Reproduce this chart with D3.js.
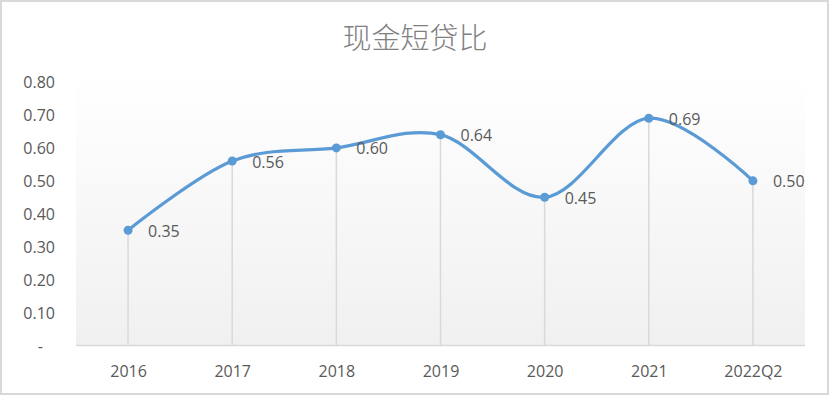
<!DOCTYPE html>
<html><head><meta charset="utf-8">
<script src="https://cdn.jsdelivr.net/npm/d3@7"></script>
<style>html,body{margin:0;padding:0;background:#fff;}svg{display:block;}</style>
</head><body>
<script>
const categories = ["2016","2017","2018","2019","2020","2021","2022Q2"];
const values = [0.35, 0.56, 0.60, 0.64, 0.45, 0.69, 0.50];
const yTicks = [0, 0.1, 0.2, 0.3, 0.4, 0.5, 0.6, 0.7, 0.8];
const title = "现金短贷比";

const W = 829, H = 395;
const m = {left: 76, right: 24, top: 82, bottom: 49.5};
const svg = d3.select("body").append("svg").attr("width", W).attr("height", H);

svg.append("rect").attr("x", 1).attr("y", 1).attr("width", W - 2).attr("height", H - 2)
  .attr("fill", "#fff").attr("stroke", "#d9d9d9").attr("stroke-width", 2);

const defs = svg.append("defs");
const g = defs.append("linearGradient").attr("id", "bg").attr("x1", 0).attr("y1", 0).attr("x2", 0).attr("y2", 1);
g.append("stop").attr("offset", "0%").attr("stop-color", "#ffffff");
g.append("stop").attr("offset", "100%").attr("stop-color", "#f0f0f0");

const x = d3.scalePoint().domain(categories).range([m.left, W - m.right]).padding(0.5);
const y = d3.scaleLinear().domain([0, 0.8]).range([H - m.bottom, m.top]);

svg.append("rect").attr("x", m.left).attr("y", 75).attr("width", W - m.right - m.left)
  .attr("height", y(0) - 75).attr("fill", "url(#bg)");

svg.append("text").attr("x", W / 2 + 0.5).attr("y", 49).attr("text-anchor", "middle")
  .attr("font-family", "'Noto Sans CJK SC'").attr("font-weight", 300)
  .attr("font-size", 29).attr("fill", "#808080").text(title);

const fontFam = "'Open Sans', 'Noto Sans', sans-serif";

// y axis labels
const yAxis = d3.axisLeft(y).tickValues(yTicks).tickSize(0).tickPadding(0)
  .tickFormat(d => d === 0 ? "-" : d3.format(".2f")(d));
const ya = svg.append("g").attr("transform", `translate(55,0)`).call(yAxis);
ya.select(".domain").remove();
ya.selectAll("text").attr("font-family", fontFam).attr("font-size", 16).attr("fill", "#595959")
  .attr("dy", "0.35em").attr("x", d => d === 0 ? -12 : 0);

// drop lines
svg.append("g").selectAll("line").data(values).join("line")
  .attr("x1", (d, i) => x(categories[i])).attr("x2", (d, i) => x(categories[i]))
  .attr("y1", d => y(d)).attr("y2", y(0))
  .attr("stroke", "#d9d9d9").attr("stroke-width", 1.5);

// x axis
const xAxis = d3.axisBottom(x).tickSize(0).tickPadding(0);
const xa = svg.append("g").attr("transform", `translate(0,${y(0)})`).call(xAxis);
xa.select(".domain").remove();
xa.selectAll("text").attr("font-family", fontFam).attr("font-size", 16).attr("fill", "#595959")
  .attr("y", 31).attr("dy", 0);
svg.append("line").attr("x1", m.left).attr("x2", W - m.right).attr("y1", y(0)).attr("y2", y(0))
  .attr("stroke", "#d9d9d9").attr("stroke-width", 1.5);

// line
const line = d3.line().x((d, i) => x(categories[i])).y(d => y(d)).curve(d3.curveCatmullRom.alpha(0));
svg.append("path").datum(values).attr("d", line).attr("fill", "none")
  .attr("stroke", "#5b9bd5").attr("stroke-width", 3.25).attr("stroke-linecap", "round");

svg.append("g").selectAll("circle").data(values).join("circle")
  .attr("cx", (d, i) => x(categories[i])).attr("cy", d => y(d)).attr("r", 4.5)
  .attr("fill", "#5b9bd5");

svg.append("g").selectAll("text").data(values).join("text")
  .attr("x", (d, i) => x(categories[i]) + 20).attr("y", d => y(d) + 1).attr("dy", "0.35em")
  .attr("font-family", fontFam).attr("font-size", 16).attr("fill", "#595959")
  .text(d => d3.format(".2f")(d));
</script>
</body></html>
